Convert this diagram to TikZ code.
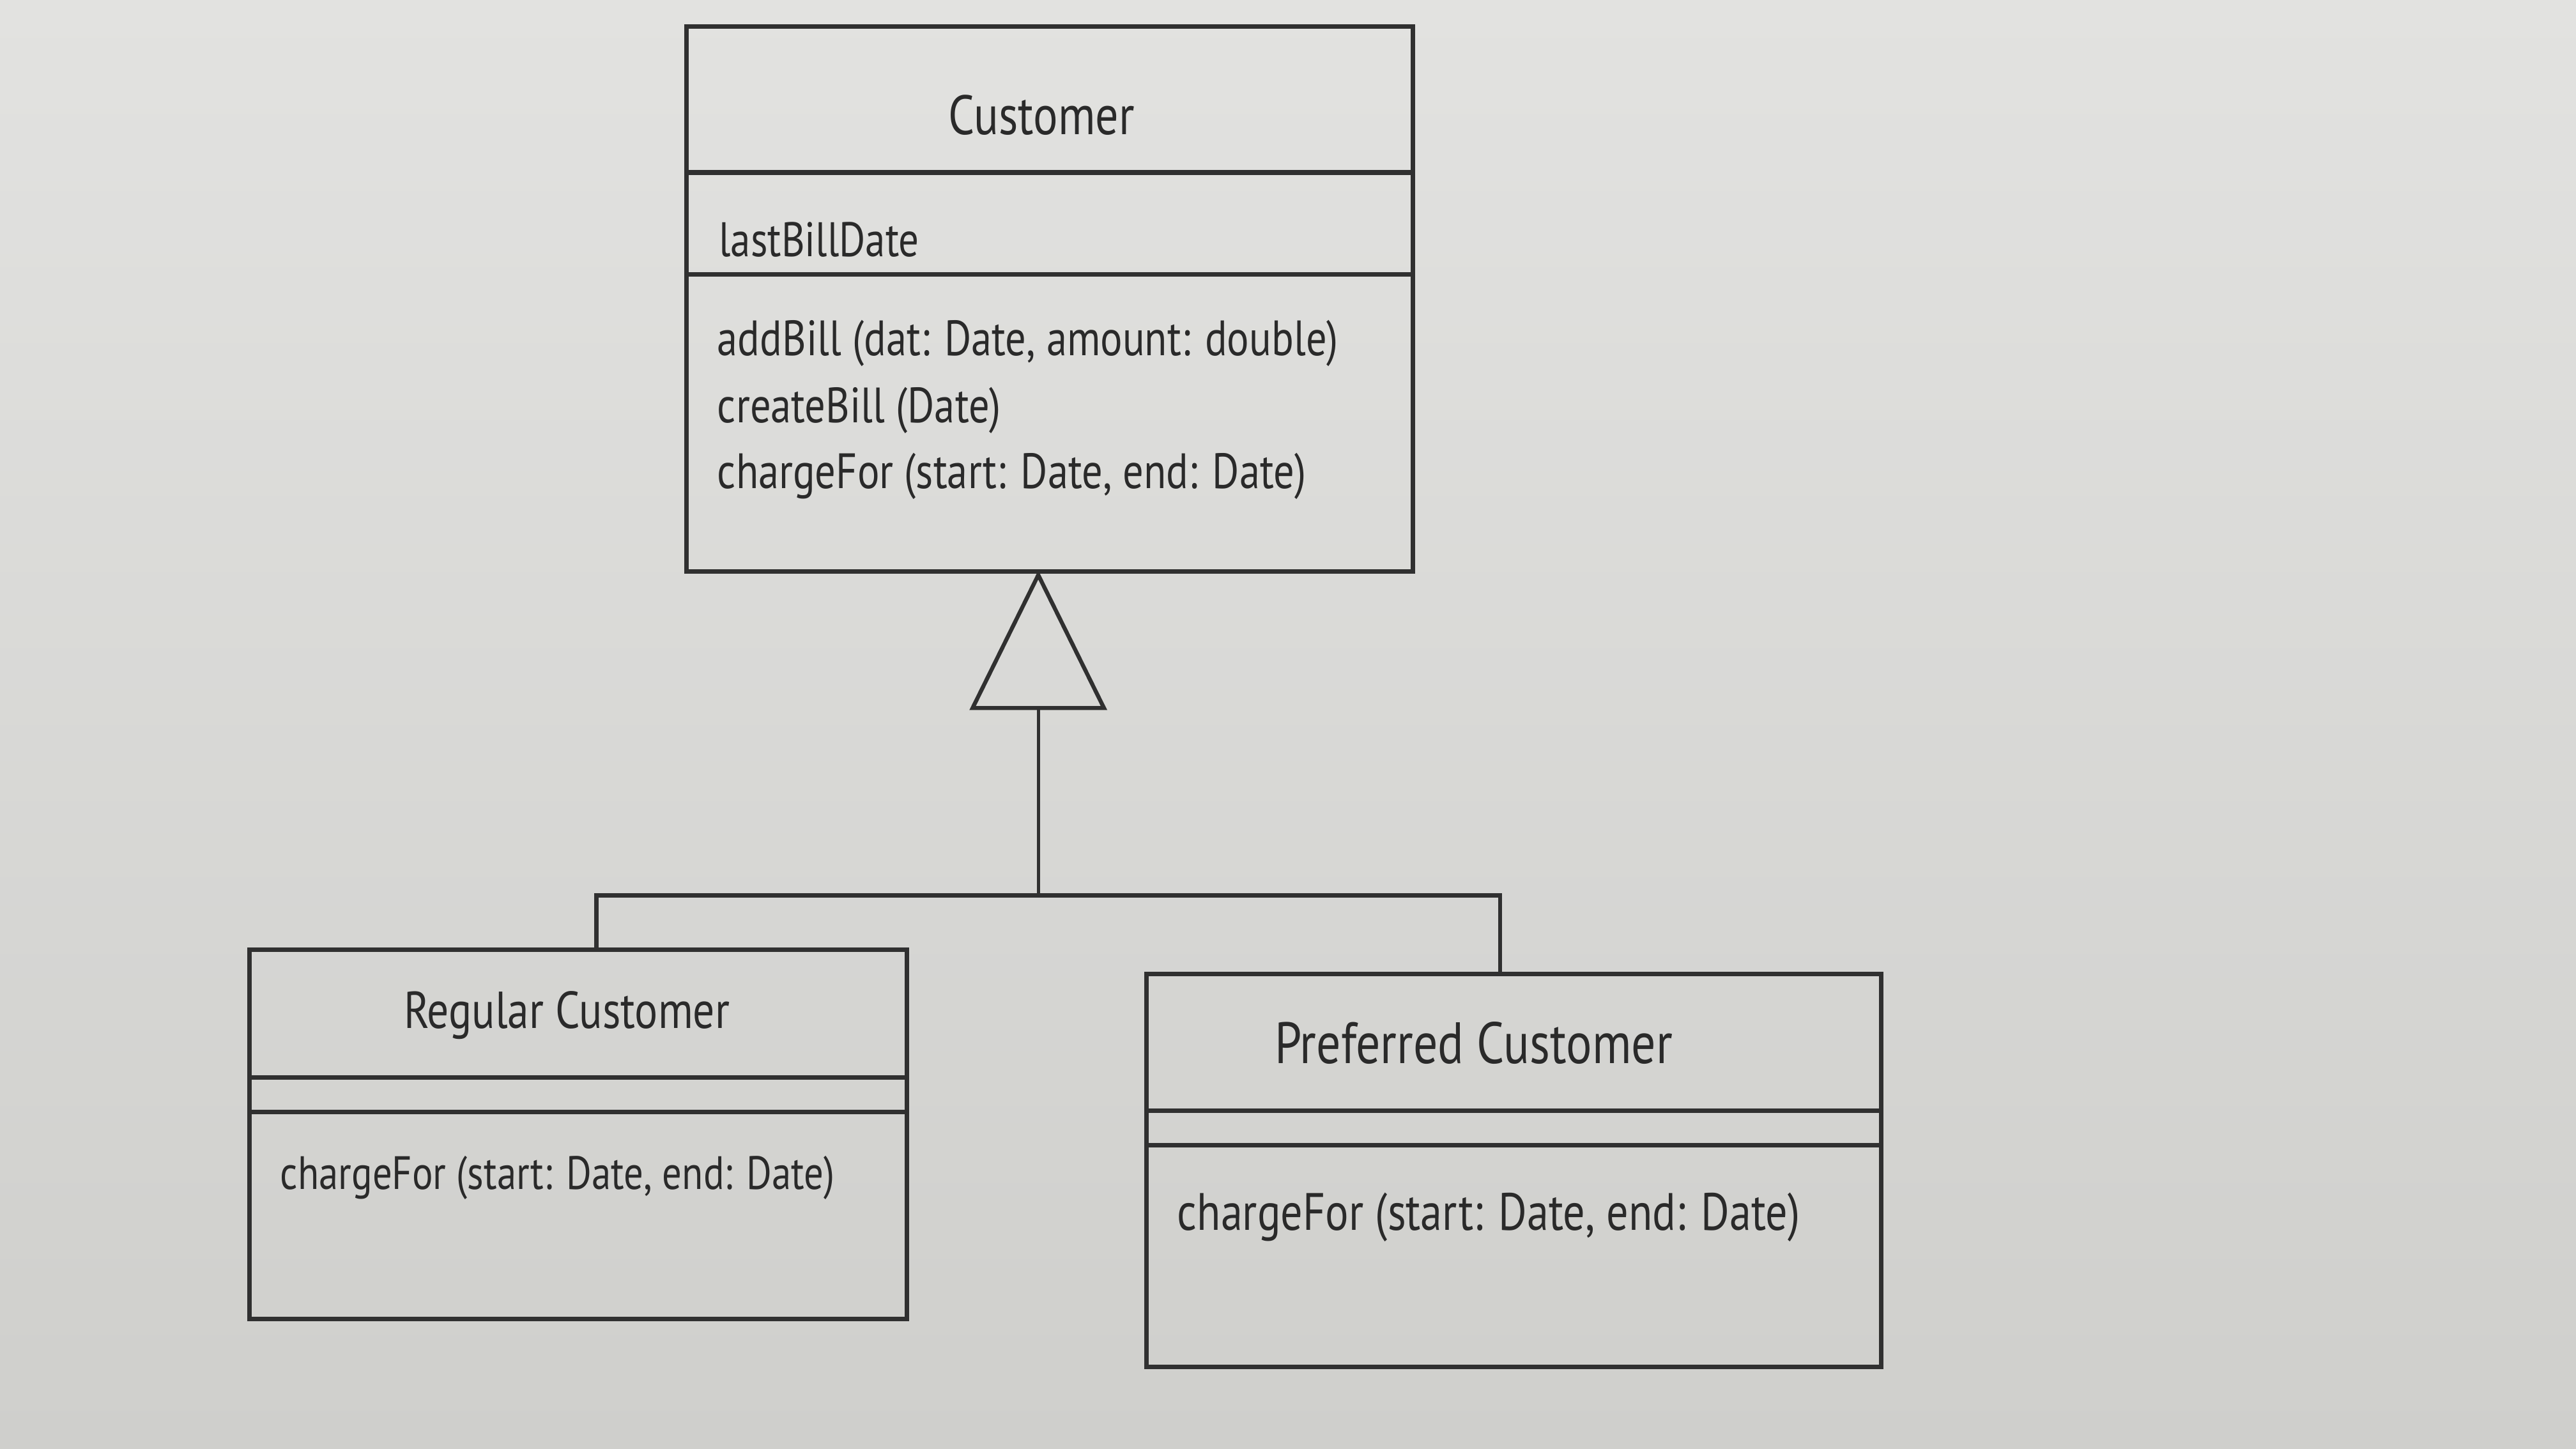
\documentclass[tikz,border=0pt]{standalone}
\usepackage{fontspec}
\setmainfont{PT Sans}[FakeStretch=0.83]
\begin{document}
\begin{tikzpicture}[x=0.01cm,y=-0.01cm,
  umlbox/.style={draw=linec,line width=0.8pt},
  divline/.style={draw=linec,line width=0.8pt},
  conn/.style={draw=linec,line width=0.55pt},
  lbl/.style={text=textc,inner sep=0pt},
  title/.style={lbl,anchor=center},
  item/.style={lbl,anchor=west}]
\definecolor{bgtop}{HTML}{E2E2E0}
\definecolor{bgbot}{HTML}{CFCFCC}
\definecolor{linec}{HTML}{303030}
\definecolor{textc}{HTML}{2A2A2A}
\useasboundingbox (0,0) rectangle (1568,882);
\shade[top color=bgtop,bottom color=bgbot] (0,0) rectangle (1568,882);
% Customer
\coordinate (c1) at (418,16); \coordinate (c2) at (860,348);
\draw[umlbox] (c1) rectangle (c2);
\draw[divline] (418,105) -- (860,105);
\draw[divline] (418,167) -- (860,167);
\node[title,font=\fontsize{9.6}{11}\selectfont] (custname) at (634,70) {Customer};
\node[item,font=\fontsize{8.4}{10}\selectfont] (custattr) at (437,146) {lastBillDate};
\node[item,font=\fontsize{8.6}{10}\selectfont] (m1) at (436,209) {addBill (dat: Date, amount: double)};
\node[item,font=\fontsize{8.6}{10}\selectfont] (m2) at (436,250) {createBill (Date)};
\node[item,font=\fontsize{8.6}{10}\selectfont] (m3) at (436,290) {chargeFor (start: Date, end: Date)};
% Regular
\coordinate (r1) at (152,578); \coordinate (r2) at (552,803);
\draw[umlbox] (r1) rectangle (r2);
\draw[divline] (152,656) -- (552,656);
\draw[divline] (152,677) -- (552,677);
\node[title,font=\fontsize{9.0}{11}\selectfont] (regname) at (345,618) {Regular Customer};
\node[item,font=\fontsize{8.1}{10}\selectfont] (regm) at (170,717) {chargeFor (start: Date, end: Date)};
% Preferred
\coordinate (p1) at (698,593); \coordinate (p2) at (1145,832);
\draw[umlbox] (p1) rectangle (p2);
\draw[divline] (698,676) -- (1145,676);
\draw[divline] (698,697) -- (1145,697);
\node[title,font=\fontsize{10.1}{12}\selectfont] (prefname) at (897,635) {Preferred Customer};
\node[item,font=\fontsize{9.1}{11}\selectfont] (prefm) at (716,741) {chargeFor (start: Date, end: Date)};
% generalization
\coordinate (apex) at (632,350);
\coordinate (tl) at (592,431); \coordinate (tr) at (672,431);
\coordinate (tb) at (632,431);
\coordinate (joint) at (632,545);
\coordinate (jl) at (363,545); \coordinate (jr) at (913,545);
\coordinate (rtop) at (363,578); \coordinate (ptop) at (913,593);
\draw[conn,line width=0.7pt] (apex) -- (tl) -- (tr) -- cycle;
\draw[conn] (tb) -- (joint);
\draw[conn,line width=0.7pt] (rtop) -- (jl) -- (jr) -- (ptop);
\end{tikzpicture}
\end{document}
